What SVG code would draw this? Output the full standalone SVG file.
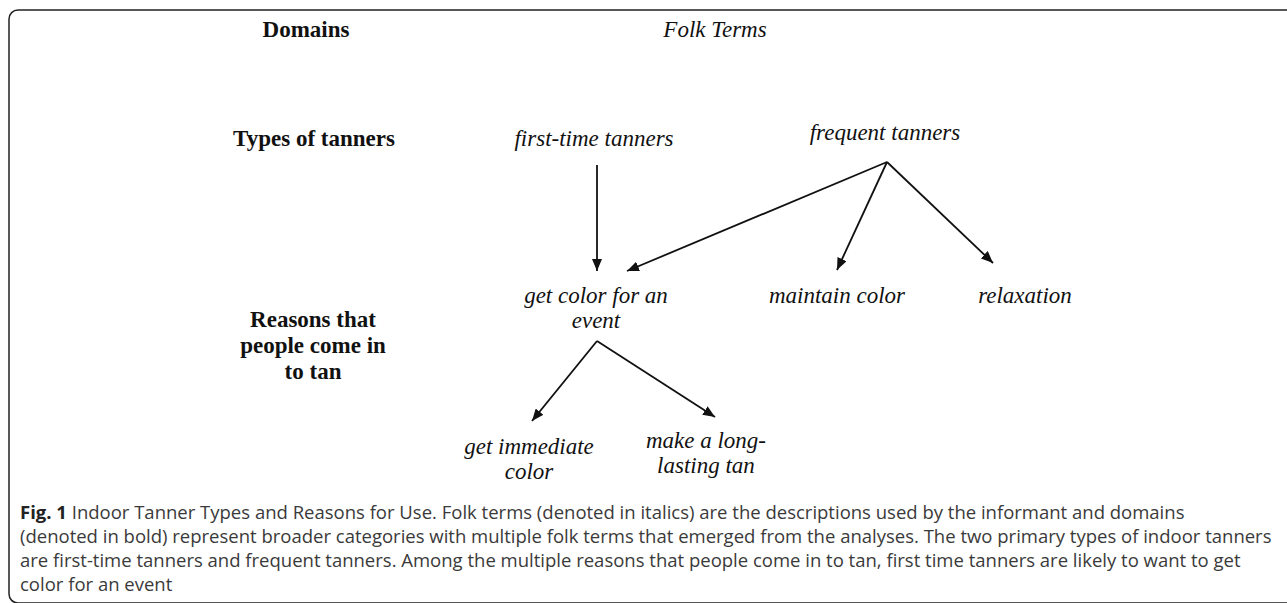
<svg xmlns="http://www.w3.org/2000/svg" width="1287" height="603" viewBox="0 0 1287 603">
<defs>
<marker id="ah" viewBox="0 0 12 10" refX="12" refY="5" markerWidth="12" markerHeight="10" markerUnits="userSpaceOnUse" orient="auto">
<path d="M0,0 L12,5 L0,10 Z" fill="#111"/>
</marker>
<style>
.dom{font-family:"Liberation Serif",serif;font-weight:bold;font-size:23px;fill:#111;text-anchor:middle}
.folk{font-family:"Liberation Serif",serif;font-style:italic;font-size:23px;fill:#111;text-anchor:middle}
.cap{font-family:"Open Sans",sans-serif;font-size:18.5px;fill:#3a3a3a}
.cap tspan.b{font-weight:bold;fill:#222}
.edge{stroke:#111;stroke-width:1.8;fill:none;marker-end:url(#ah)}
</style>
</defs>
<rect width="1287" height="603" fill="#fff"/>
<path d="M1300,10 H18 A9,9 0 0 0 9,19 V594 A9,9 0 0 0 18,603 H1300" fill="none" stroke="#222" stroke-width="1.5"/>
<g id="header-domains"><text class="dom" x="306" y="37">Domains</text></g>
<g id="header-folk"><text class="folk" x="715" y="37">Folk Terms</text></g>
<g id="domain-types"><text class="dom" x="314" y="146">Types of tanners</text></g>
<g id="domain-reasons"><text class="dom" x="313"><tspan x="313" y="327">Reasons that</tspan><tspan x="313" y="353">people come in</tspan><tspan x="313" y="379">to tan</tspan></text></g>
<g id="first-time"><text class="folk" x="594" y="146">first-time tanners</text></g>
<g id="frequent"><text class="folk" x="885" y="140">frequent tanners</text></g>
<g id="get-color"><text class="folk"><tspan x="596" y="303">get color for an</tspan><tspan x="596" y="328">event</tspan></text></g>
<g id="maintain"><text class="folk" x="837" y="303">maintain color</text></g>
<g id="relaxation"><text class="folk" x="1025" y="303">relaxation</text></g>
<g id="immediate"><text class="folk"><tspan x="529" y="454">get immediate</tspan><tspan x="529" y="479">color</tspan></text></g>
<g id="long-lasting"><text class="folk"><tspan x="706" y="448">make a long-</tspan><tspan x="706" y="473">lasting tan</tspan></text></g>
<g id="connectors">
<line class="edge" x1="597" y1="165" x2="597" y2="271"/>
<line class="edge" x1="887" y1="162" x2="627" y2="271"/>
<line class="edge" x1="887" y1="162" x2="837" y2="270"/>
<line class="edge" x1="887" y1="162" x2="993" y2="263"/>
<line class="edge" x1="597" y1="341" x2="532" y2="421"/>
<line class="edge" x1="597" y1="341" x2="715" y2="417"/>
</g>
<g id="caption">
<text class="cap" x="20" y="519"><tspan class="b">Fig. 1</tspan> Indoor Tanner Types and Reasons for Use. Folk terms (denoted in italics) are the descriptions used by the informant and domains</text>
<text class="cap" x="20" y="543">(denoted in bold) represent broader categories with multiple folk terms that emerged from the analyses. The two primary types of indoor tanners</text>
<text class="cap" x="20" y="567">are first-time tanners and frequent tanners. Among the multiple reasons that people come in to tan, first time tanners are likely to want to get</text>
<text class="cap" x="20" y="591">color for an event</text>
</g>
</svg>
